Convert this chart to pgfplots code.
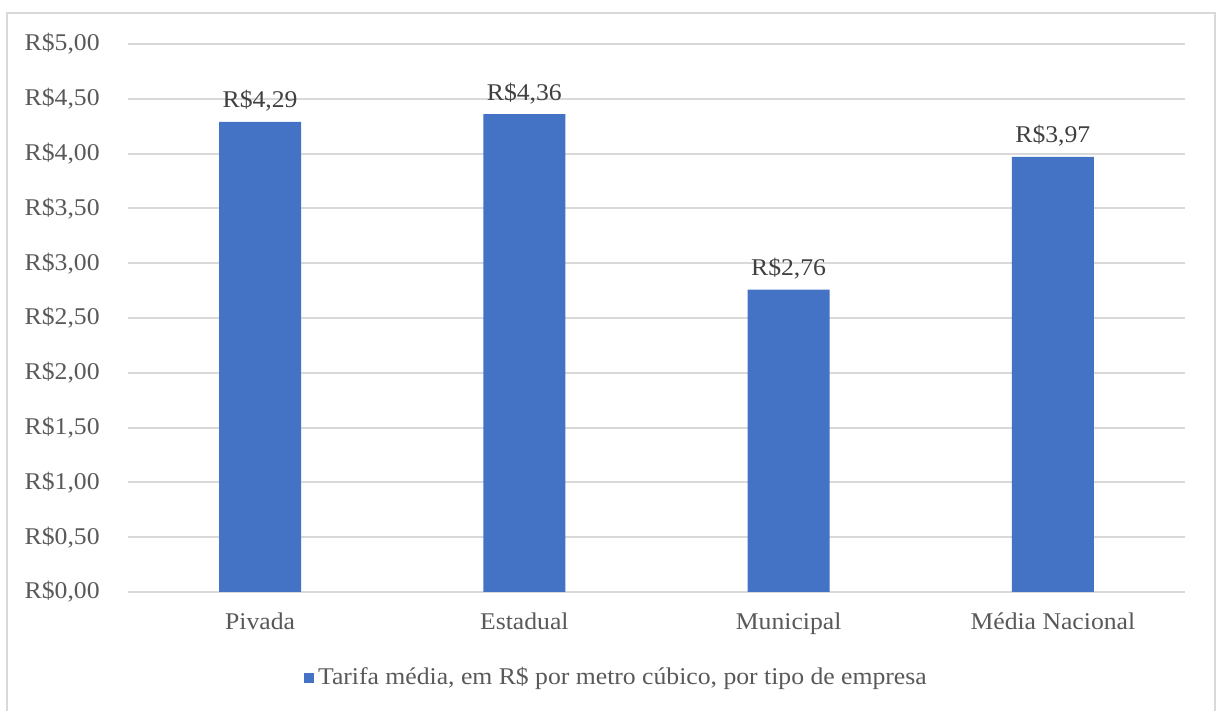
\documentclass[border=0pt]{standalone}
\usepackage{pgfplots}
\pgfplotsset{compat=1.18}
\usepackage{fontspec}
\setmainfont{Liberation Serif}[FakeStretch=1.07]
\definecolor{barblue}{HTML}{4472C4}
\definecolor{gridgray}{HTML}{D9D9D9}
\definecolor{labgray}{HTML}{595959}
\definecolor{datgray}{HTML}{404040}
\begin{document}
\fontsize{12pt}{14pt}\selectfont
\begin{tikzpicture}
\useasboundingbox (0,0) rectangle (608pt,355.5pt);
\fill[white] (0,0) rectangle (608pt,355.5pt);
\draw[gridgray, line width=1pt] (3.5pt,-10pt) -- (3.5pt,349pt) -- (607.5pt,349pt) -- (607.5pt,-10pt);
\begin{axis}[
  at={(64pt,59.5pt)}, anchor=south west,
  scale only axis, width=528.5pt, height=274pt,
  xmin=-0.5, xmax=3.5, ymin=0, ymax=5,
  ybar, bar width=41pt,
  xtick={0,1,2,3},
  xticklabels={Pivada, Estadual, Municipal, Média Nacional},
  ytick={0,0.5,1,1.5,2,2.5,3,3.5,4,4.5,5},
  yticklabels={{R\$0,00},{R\$0,50},{R\$1,00},{R\$1,50},{R\$2,00},{R\$2,50},{R\$3,00},{R\$3,50},{R\$4,00},{R\$4,50},{R\$5,00}},
  major tick length=0pt,
  axis y line*=left,
  y axis line style={draw=none},
  axis x line*=bottom,
  x axis line style={gridgray, line width=1pt, -},
  ymajorgrids,
  major grid style={gridgray, line width=1pt},
  y tick label style={font=\fontsize{12pt}{14pt}\selectfont, text=labgray, xshift=-10pt},
  x tick label style={font=\fontsize{12pt}{14pt}\selectfont, text=labgray, yshift=-6pt},
  /pgf/number format/assume math mode=true,
  nodes near coords={R\$\pgfmathprintnumber[fixed,fixed zerofill,precision=2,use comma]{\pgfplotspointmeta}},
  nodes near coords style={font=\fontsize{12pt}{14pt}\selectfont, text=datgray, anchor=south, yshift=1pt},
  legend style={at={(0.463,-0.157)}, anchor=center, draw=none, fill=none,
    font=\fontsize{12pt}{14pt}\selectfont, text=labgray,
    /tikz/every even column/.append style={column sep=0pt}},
  legend image code/.code={\fill[barblue] (0pt,-2.5pt) rectangle (5pt,2.5pt);},
  legend cell align=left,
  clip=false,
]
\addplot[fill=barblue, draw=none] coordinates {(0,4.29) (1,4.36) (2,2.76) (3,3.97)};
\addlegendentry{Tarifa média, em R\$ por metro cúbico, por tipo de empresa}
\end{axis}
\end{tikzpicture}
\end{document}
